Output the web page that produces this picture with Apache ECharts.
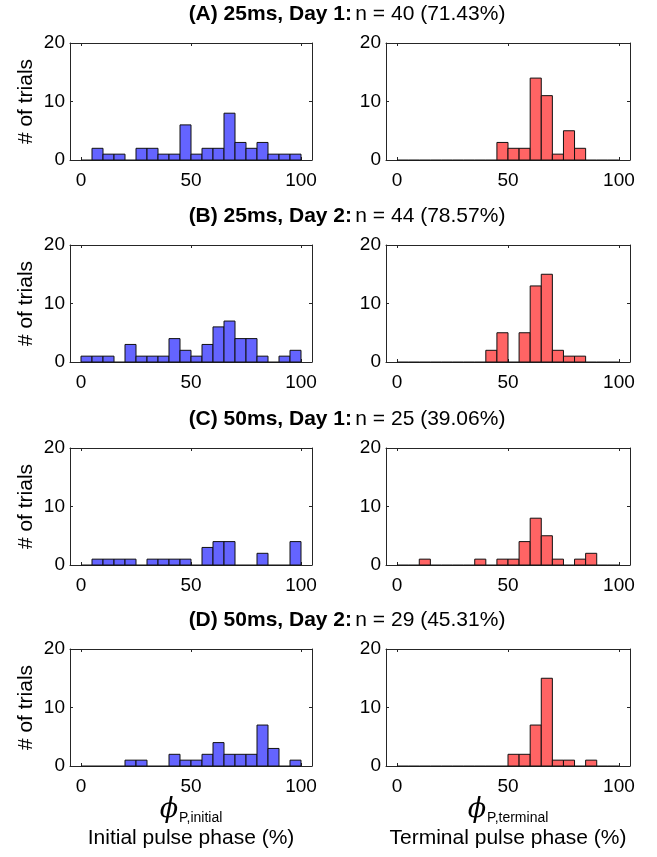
<!DOCTYPE html>
<html>
<head>
<meta charset="utf-8">
<script src="https://cdn.jsdelivr.net/npm/echarts@6/dist/echarts.min.js"></script>
<style>
  html, body { margin: 0; padding: 0; background: #fff; }
  #chart { width: 657px; height: 857px; }
</style>
</head>
<body>
<div id="chart"></div>
<script>
// Histogram bin edges (pulse phase, %)
const binEdges = [0, 5, 10, 15, 20, 25, 30, 35, 40, 45, 50, 55, 60, 65, 70, 75, 80, 85, 90, 95, 100];

// Panel headers
const panelLetters = ['(A)', '(B)', '(C)', '(D)'];
const panelConditions = ['25ms, Day 1:', '25ms, Day 2:', '50ms, Day 1:', '50ms, Day 2:'];
const trialCounts = [40, 44, 25, 29];
const trialPercents = ['71.43', '78.57', '39.06', '45.31'];

// Counts per bin: initial pulse phase
const initialA = [0, 2, 1, 1, 0, 2, 2, 1, 1, 6, 1, 2, 2, 8, 3, 2, 3, 1, 1, 1];
const initialB = [1, 1, 1, 0, 3, 1, 1, 1, 4, 2, 1, 3, 6, 7, 4, 4, 1, 0, 1, 2];
const initialC = [0, 1, 1, 1, 1, 0, 1, 1, 1, 1, 0, 3, 4, 4, 0, 0, 2, 0, 0, 4];
const initialD = [0, 0, 0, 0, 1, 1, 0, 0, 2, 1, 1, 2, 4, 2, 2, 2, 7, 3, 0, 1];

// Counts per bin: terminal pulse phase
const terminalA = [0, 0, 0, 0, 0, 0, 0, 0, 0, 3, 2, 2, 14, 11, 1, 5, 2, 0, 0, 0];
const terminalB = [0, 0, 0, 0, 0, 0, 0, 0, 2, 5, 0, 5, 13, 15, 2, 1, 1, 0, 0, 0];
const terminalC = [0, 0, 1, 0, 0, 0, 0, 1, 0, 1, 1, 4, 8, 5, 1, 0, 1, 2, 0, 0];
const terminalD = [0, 0, 0, 0, 0, 0, 0, 0, 0, 0, 2, 2, 7, 15, 1, 1, 0, 1, 0, 0];

// Axis ticks
const xTicks = [0, 50, 100];
const yTicks = [0, 10, 20];

const initialSets = [initialA, initialB, initialC, initialD];
const terminalSets = [terminalA, terminalB, terminalC, terminalD];

const BLUE = '#6464ff';
const RED = '#ff6464';
const AXIS = '#262626';
const FONT = '"Liberation Sans", Arial, sans-serif';

const rowTops = [43, 245, 448, 649];
const plotH = 117;
const cols = [{ left: 70, width: 242 }, { left: 386, width: 244 }];

const grids = [], xAxes = [], yAxes = [], series = [], graphics = [];

function histRender(color) {
  return function (params, api) {
    const x0 = api.value(0), x1 = api.value(1), c = api.value(2);
    const pTop = api.coord([x0, c]);
    const pBot = api.coord([x1, 0]);
    if (c === 0) {
      return {
        type: 'line',
        shape: { x1: pTop[0], y1: pBot[1], x2: pBot[0], y2: pBot[1] },
        style: { stroke: '#111', lineWidth: 1 }
      };
    }
    return {
      type: 'rect',
      shape: { x: pTop[0], y: pTop[1], width: pBot[0] - pTop[0], height: pBot[1] - pTop[1] },
      style: { fill: color, stroke: '#111', lineWidth: 1 }
    };
  };
}

function toBins(counts) {
  return counts.map((c, i) => [binEdges[i], binEdges[i + 1], c]);
}

for (let r = 0; r < 4; r++) {
  for (let k = 0; k < 2; k++) {
    const gi = grids.length;
    grids.push({ left: cols[k].left, width: cols[k].width, top: rowTops[r], height: plotH });
    const isBottom = r === 3;
    const xName = k === 0
      ? '{phi|ϕ}{sub|P,initial}\n{lab|Initial pulse phase (%)}'
      : '{phi|ϕ}{sub|P,terminal}\n{lab|Terminal pulse phase (%)}';
    // bottom x axis
    xAxes.push({
      gridIndex: gi, type: 'value', min: -5, max: 105, position: 'bottom',
      axisLine: { show: true, onZero: false, lineStyle: { color: AXIS, width: 1 } },
      axisTick: { show: true, inside: true, length: 3, customValues: xTicks, lineStyle: { color: AXIS } },
      axisLabel: { show: true, customValues: xTicks, color: '#000', fontSize: 19, fontFamily: FONT, margin: 11 },
      splitLine: { show: false },
      name: isBottom ? xName : '',
      nameLocation: 'middle',
      nameGap: 26,
      nameTextStyle: {
        color: '#000',
        rich: {
          phi: { fontFamily: '"DejaVu Serif", serif', fontStyle: 'italic', fontSize: 27, color: '#000', lineHeight: 30 },
          sub: { fontFamily: FONT, fontSize: 14, color: '#000', verticalAlign: 'bottom', padding: [14, 0, 0, 1] },
          lab: { fontFamily: FONT, fontSize: 21, color: '#000', lineHeight: 26 }
        }
      }
    });
    // top x axis (box edge)
    xAxes.push({
      gridIndex: gi, type: 'value', min: -5, max: 105, position: 'top',
      axisLine: { show: true, onZero: false, lineStyle: { color: AXIS, width: 1 } },
      axisTick: { show: true, inside: true, length: 3, customValues: xTicks, lineStyle: { color: AXIS } },
      axisLabel: { show: false },
      splitLine: { show: false }
    });
    // left y axis
    yAxes.push({
      gridIndex: gi, type: 'value', min: 0, max: 20, interval: 10, position: 'left',
      axisLine: { show: true, onZero: false, lineStyle: { color: AXIS, width: 1 } },
      axisTick: { show: true, inside: true, length: 3, customValues: yTicks, lineStyle: { color: AXIS } },
      axisLabel: { show: true, customValues: yTicks, color: '#000', fontSize: 19, fontFamily: FONT, margin: 5 },
      splitLine: { show: false },
      name: k === 0 ? '# of trials' : '',
      nameLocation: 'middle',
      nameGap: 33,
      nameRotate: 90,
      nameTextStyle: { color: '#000', fontSize: 21, fontFamily: FONT }
    });
    // right y axis (box edge)
    yAxes.push({
      gridIndex: gi, type: 'value', min: 0, max: 20, interval: 10, position: 'right',
      axisLine: { show: true, onZero: false, lineStyle: { color: AXIS, width: 1 } },
      axisTick: { show: true, inside: true, length: 3, customValues: yTicks, lineStyle: { color: AXIS } },
      axisLabel: { show: false },
      splitLine: { show: false }
    });
    const counts = k === 0 ? initialSets[r] : terminalSets[r];
    series.push({
      type: 'custom',
      xAxisIndex: gi * 2,
      yAxisIndex: gi * 2,
      renderItem: histRender(k === 0 ? BLUE : RED),
      encode: { x: [0, 1], y: 2 },
      data: toBins(counts),
      silent: true
    });
  }
  graphics.push({
    type: 'text',
    x: 347,
    y: rowTops[r] - 29,
    style: {
      text: '{b|' + panelLetters[r] + ' ' + panelConditions[r] + '} {n|n = ' + trialCounts[r] + ' (' + trialPercents[r] + '%)}',
      align: 'center',
      verticalAlign: 'middle',
      rich: {
        b: { fontFamily: FONT, fontWeight: 'bold', fontSize: 21, fill: '#000' },
        n: { fontFamily: FONT, fontSize: 21, fill: '#000' }
      }
    }
  });
}

const chart = echarts.init(document.getElementById('chart'), null, { renderer: 'canvas' });
chart.setOption({
  backgroundColor: '#fff',
  animation: false,
  grid: grids,
  xAxis: xAxes,
  yAxis: yAxes,
  series: series,
  graphic: graphics
});
</script>
</body>
</html>
